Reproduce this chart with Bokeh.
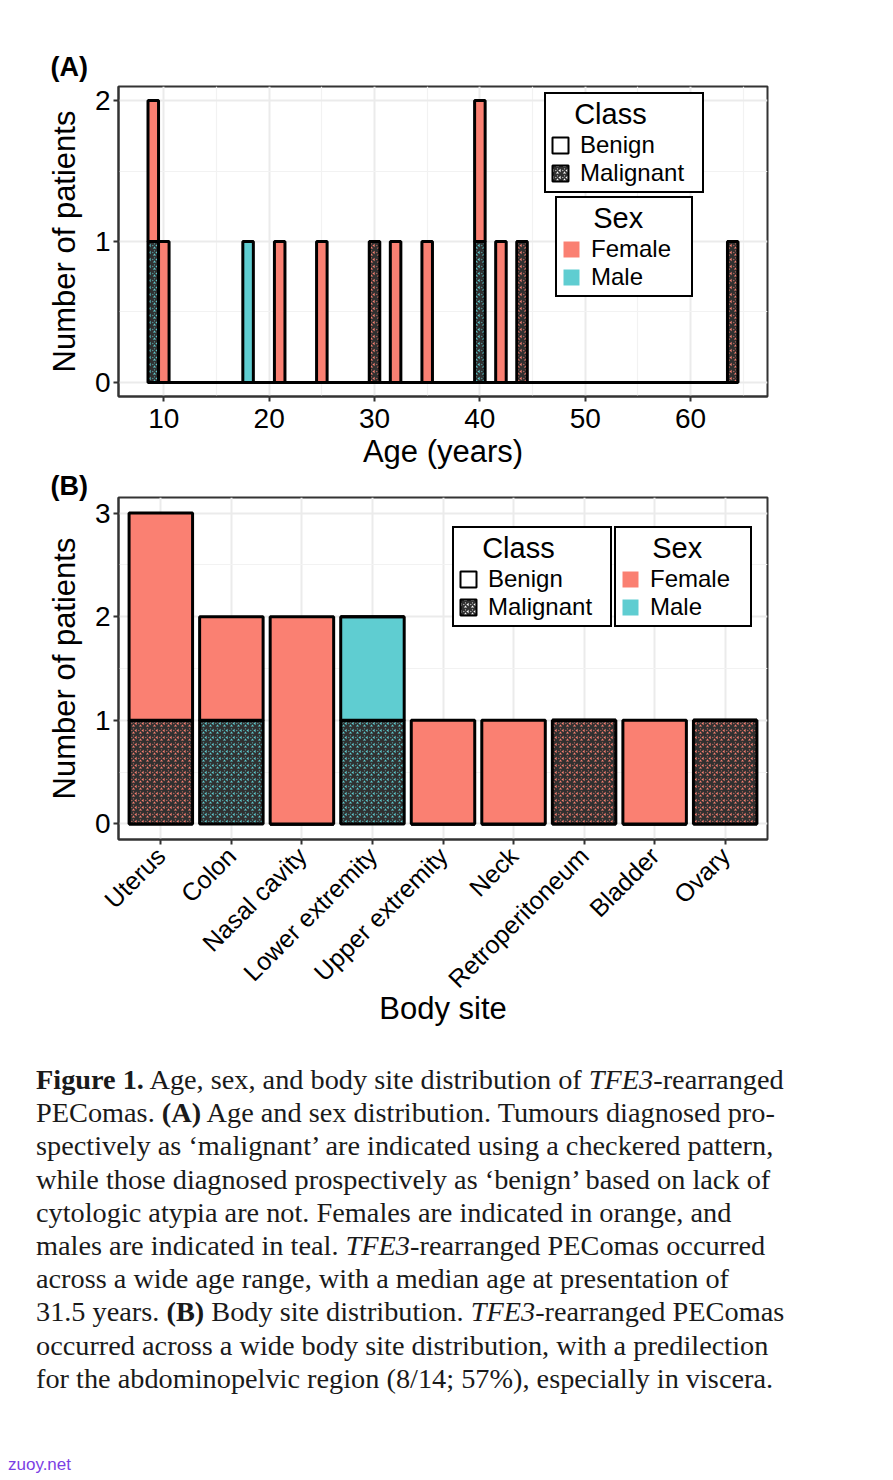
import math
from bokeh.plotting import figure
from bokeh.models import (ColumnDataSource, FixedTicker, Legend, LegendItem,
                          Range1d, FactorRange, Div)
from bokeh.layouts import column
from bokeh.embed import file_html
from bokeh.resources import INLINE

# ---------------- data ----------------
# Panel A: histogram of age (bin width 1 year), stacked by class and sex
age_bins = [9, 10, 18, 21, 25, 30, 32, 35, 40, 42, 44, 64]
age_malignant_male   = [1, 0, 0, 0, 0, 0, 0, 0, 1, 0, 0, 0]
age_malignant_female = [0, 0, 0, 0, 0, 1, 0, 0, 0, 0, 1, 1]
age_benign_male      = [0, 0, 1, 0, 0, 0, 0, 0, 0, 0, 0, 0]
age_benign_female    = [1, 1, 0, 1, 1, 0, 1, 1, 1, 1, 0, 0]
age_binwidth = 1
age_ticks = [10, 20, 30, 40, 50, 60]
count_ticks_a = [0, 1, 2]

# Panel B: body site counts, stacked by class and sex
sites = ["Uterus", "Colon", "Nasal cavity", "Lower extremity", "Upper extremity",
         "Neck", "Retroperitoneum", "Bladder", "Ovary"]
site_malignant_male   = [0, 1, 0, 1, 0, 0, 0, 0, 0]
site_malignant_female = [1, 0, 0, 0, 0, 0, 1, 0, 1]
site_benign_male      = [0, 0, 0, 1, 0, 0, 0, 0, 0]
site_benign_female    = [2, 1, 2, 0, 1, 1, 0, 1, 0]
count_ticks_b = [0, 1, 2, 3]

class_labels = ["Benign", "Malignant"]
sex_labels = ["Female", "Male"]
legend_titles = ["Class", "Sex"]

caption_lines = [
    "<b>Figure 1.</b> Age, sex, and body site distribution of <i>TFE3</i>-rearranged",
    "PEComas. <b>(A)</b> Age and sex distribution. Tumours diagnosed pro-",
    "spectively as \u2018malignant\u2019 are indicated using a checkered pattern,",
    "while those diagnosed prospectively as \u2018benign\u2019 based on lack of",
    "cytologic atypia are not. Females are indicated in orange, and",
    "males are indicated in teal. <i>TFE3</i>-rearranged PEComas occurred",
    "across a wide age range, with a median age at presentation of",
    "31.5 years. <b>(B)</b> Body site distribution. <i>TFE3</i>-rearranged PEComas",
    "occurred across a wide body site distribution, with a predilection",
    "for the abdominopelvic region (8/14; 57%), especially in viscera.",
]
watermark = "zuoy.net"

# ---------------- style ----------------
FEMALE = "#FA8072"
MALE = "#5FCDD1"
DARK = "#303030"
FRAME = "#333333"
SANS = "Liberation Sans"
NAN = float("nan")
NBSP = "\u00a0"
stackers = ["mm", "mf", "bm", "bf"]
stack_colors = [MALE, FEMALE, MALE, FEMALE]
stack_hatch = ["criss_cross", "criss_cross", None, None]
HATCH = dict(hatch_color=DARK, hatch_scale=7, hatch_weight=1.8)


def style_plot(p, tick_size, xstand, ystand, xlabstand, title, standoff):
    p.outline_line_color = FRAME
    p.outline_line_width = 2
    p.background_fill_color = "white"
    p.border_fill_color = "white"
    for ax in (p.xaxis[0], p.yaxis[0]):
        ax.axis_line_color = FRAME
        ax.axis_line_width = 2
        ax.major_tick_line_color = FRAME
        ax.major_tick_line_width = 2
        ax.major_tick_in = 0
        ax.major_tick_out = 5
        ax.minor_tick_line_color = None
        ax.major_label_text_font = SANS
        ax.major_label_text_color = "black"
        ax.axis_label_text_font = SANS
        ax.axis_label_text_font_size = "31px"
        ax.axis_label_text_font_style = "normal"
        ax.axis_label_text_color = "black"
    p.yaxis.major_label_text_font_size = "28px"
    p.xaxis.major_label_text_font_size = tick_size
    p.xaxis.major_label_standoff = xstand
    p.yaxis.major_label_standoff = ystand
    p.xaxis.axis_label_standoff = xlabstand
    p.yaxis.axis_label_standoff = 10
    for g in (p.xgrid[0], p.ygrid[0]):
        g.grid_line_color = "#EBEBEB"
        g.grid_line_width = 2
    p.title.text = title
    p.title.align = "left"
    p.title.offset = -68
    p.title.text_font = SANS
    p.title.text_font_size = "27px"
    p.title.text_font_style = "bold"
    p.title.text_color = "black"
    p.title.standoff = standoff


def add_legends(p, loc_class, loc_sex, w_class, w_sex):
    r_ben = p.quad(left=[NAN], right=[NAN], top=[NAN], bottom=[NAN], fill_color="white",
                   line_color="black", line_width=2)
    r_mal = p.quad(left=[NAN], right=[NAN], top=[NAN], bottom=[NAN], fill_color="white",
                   line_color="black", line_width=2, hatch_pattern="criss_cross",
                   **HATCH)
    r_f = p.quad(left=[NAN], right=[NAN], top=[NAN], bottom=[NAN], fill_color=FEMALE,
                 line_color=None)
    r_m = p.quad(left=[NAN], right=[NAN], top=[NAN], bottom=[NAN], fill_color=MALE,
                 line_color=None)
    common = dict(title_text_font=SANS, title_text_font_size="29px",
                  title_text_font_style="normal", title_text_color="black",
                  label_text_font=SANS, label_text_font_size="24px",
                  label_text_color="black",
                  glyph_width=20, glyph_height=20, label_standoff=10,
                  padding=4, spacing=0, margin=0, title_standoff=0,
                  border_line_color="black", border_line_width=2.5,
                  border_line_alpha=1.0,
                  background_fill_color="white", background_fill_alpha=1)
    # leading no-break spaces roughly centre the titles, as in the original
    lc = Legend(items=[LegendItem(label=class_labels[0], renderers=[r_ben]),
                       LegendItem(label=class_labels[1], renderers=[r_mal])],
                title=NBSP * 3 + legend_titles[0], location=loc_class,
                label_width=w_class, **common)
    ls = Legend(items=[LegendItem(label=sex_labels[0], renderers=[r_f]),
                       LegendItem(label=sex_labels[1], renderers=[r_m])],
                title=NBSP * 4 + legend_titles[1], location=loc_sex,
                label_width=w_sex, **common)
    p.add_layout(lc)
    p.add_layout(ls)


# ---------------- panel A ----------------
srcA = ColumnDataSource(dict(age=age_bins, mm=age_malignant_male, mf=age_malignant_female,
                             bm=age_benign_male, bf=age_benign_female))
totA = [sum(v) for v in zip(age_malignant_male, age_malignant_female,
                            age_benign_male, age_benign_female)]
xlo = min(age_bins) - age_binwidth / 2
xhi = max(age_bins) + age_binwidth / 2
padx = 0.05 * (xhi - xlo)
ymaxA = max(totA)

pA = figure(width=885, height=471,
            x_range=Range1d(xlo - padx, xhi + padx),
            y_range=Range1d(-0.05 * ymaxA, 1.05 * ymaxA),
            output_backend="svg", toolbar_location=None,
            min_border_left=118, min_border_right=118,
            min_border_top=86, min_border_bottom=75)
style_plot(pA, "28px", 7, 3, 3, "(A)", 9)
pA.xaxis.axis_label = "Age (years)"
pA.yaxis.axis_label = "Number of patients"
pA.xaxis.ticker = FixedTicker(ticks=age_ticks, minor_ticks=[t + 5 for t in age_ticks])
pA.yaxis.ticker = FixedTicker(ticks=count_ticks_a, minor_ticks=[t + 0.5 for t in count_ticks_a])
pA.xgrid.minor_grid_line_color = "#F2F2F2"
pA.xgrid.minor_grid_line_width = 1.2
pA.ygrid.minor_grid_line_color = "#F2F2F2"
pA.ygrid.minor_grid_line_width = 1.2

# zero-count bins outline (baseline of the histogram)
pA.quad(left=[xlo], right=[xhi], top=[0], bottom=[0], fill_color=None,
        line_color="black", line_width=3)
pA.vbar_stack(stackers, x="age", width=age_binwidth, source=srcA,
              fill_color=stack_colors, hatch_pattern=stack_hatch,
              line_color="black", line_width=3, **HATCH)
add_legends(pA, (426, 203), (437, 99), 118, 96)

# ---------------- panel B ----------------
srcB = ColumnDataSource(dict(site=sites, mm=site_malignant_male, mf=site_malignant_female,
                             bm=site_benign_male, bf=site_benign_female))
totB = [sum(v) for v in zip(site_malignant_male, site_malignant_female,
                            site_benign_male, site_benign_female)]
ymaxB = max(totB)
pB = figure(width=885, height=557,
            x_range=FactorRange(factors=sites, range_padding=0.1,
                                range_padding_units="absolute"),
            y_range=Range1d(-0.05 * ymaxB, 1.05 * ymaxB),
            output_backend="svg", toolbar_location=None,
            min_border_left=118, min_border_right=118,
            min_border_top=26, min_border_bottom=189)
style_plot(pB, "25px", 7, 3, -15, "(B)", -6)
pB.xaxis.axis_label = "Body site"
pB.yaxis.axis_label = "Number of patients"
pB.xaxis.major_label_orientation = math.pi / 4
pB.yaxis.ticker = FixedTicker(ticks=count_ticks_b, minor_ticks=[t + 0.5 for t in count_ticks_b])
pB.ygrid.minor_grid_line_color = "#F2F2F2"
pB.ygrid.minor_grid_line_width = 1.2
pB.vbar_stack(stackers, x="site", width=0.9, source=srcB,
              fill_color=stack_colors, hatch_pattern=stack_hatch,
              line_color="black", line_width=3, **HATCH)
add_legends(pB, (334, 212), (496, 212), 118, 96)

# ---------------- caption ----------------
html = ('<div style="font-family:\'Liberation Serif\',serif;font-size:28.3px;'
        'line-height:33.2px;color:#1a1a1a;white-space:nowrap;'
        'padding-left:31px;padding-top:30px;">'
        + "<br>".join(caption_lines) + "</div>"
        + '<div style="font-family:\'Liberation Sans\',sans-serif;font-size:17px;'
          'color:#7B3FE4;margin-left:3px;margin-top:58px;">' + watermark + "</div>")
cap = Div(text=html, width=885, height=448)

layout = column(pA, pB, cap, spacing=0)
open("out.html", "w").write(file_html(layout, INLINE))
